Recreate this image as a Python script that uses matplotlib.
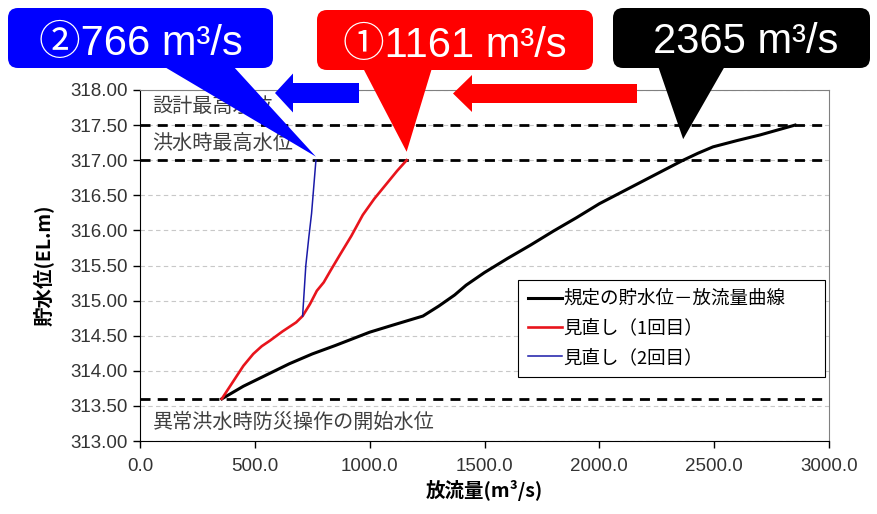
import matplotlib
matplotlib.use("Agg")
import matplotlib.pyplot as plt
import matplotlib.patches as mpatches
import matplotlib.transforms as mtransforms

# reservoir level vs. discharge curves
black_x = [356, 450, 550, 650, 750, 850, 1000, 1100, 1232, 1300, 1370, 1420,
           1500, 1600, 1700, 1800, 1900, 2000, 2100, 2200, 2300, 2365, 2430,
           2495, 2600, 2700, 2852]
black_y = [313.60, 313.78, 313.94, 314.10, 314.24, 314.36, 314.55, 314.65,
           314.78, 314.92, 315.08, 315.22, 315.40, 315.60, 315.79, 315.99,
           316.18, 316.38, 316.55, 316.72, 316.89, 317.00, 317.10, 317.19,
           317.28, 317.36, 317.50]

red_x = [356, 400, 450, 493, 530, 566, 620, 680, 708, 740, 770, 800, 830,
         870, 920, 970, 1020, 1070, 1120, 1161]
red_y = [313.60, 313.82, 314.07, 314.24, 314.35, 314.43, 314.56, 314.69,
         314.78, 314.95, 315.14, 315.26, 315.43, 315.65, 315.92, 316.22,
         316.45, 316.65, 316.85, 317.00]

blue_x = [708, 722, 735, 747, 766]
blue_y = [314.78, 315.50, 315.90, 316.24, 317.00]

legend_labels = ["規定の貯水位－放流量曲線", "見直し（1回目）", "見直し（2回目）"]

design_high = 317.5
flood_high = 317.0
start_level = 313.6
level_labels = ["設計最高水位", "洪水時最高水位", "異常洪水時防災操作の開始水位"]

peak_values = [766, 1161, 2365]
peak_texts = ["②766 m³/s", "①1161 m³/s", "2365 m³/s"]

W, H, DPI = 877, 514, 100
fig = plt.figure(figsize=(W / DPI, H / DPI), dpi=DPI)
ax = fig.add_axes([140 / W, 1 - 441 / H, 689 / W, 351 / H])

cjk = ["Noto Sans CJK JP", "DejaVu Sans"]
num_font = ["Liberation Sans Narrow", "Liberation Sans", "DejaVu Sans"]

ax.set_xlim(0, 3000)
ax.set_ylim(313, 318)
ax.set_xticks([0, 500, 1000, 1500, 2000, 2500, 3000])
ax.set_yticks([313 + 0.5 * i for i in range(11)])
ax.set_xticklabels([f"{v:.1f}" for v in ax.get_xticks()], family=num_font,
                   fontsize=13.5, color="#333333")
ax.set_yticklabels([f"{v:.2f}" for v in ax.get_yticks()], family=num_font,
                   fontsize=13.5, color="#333333")
ax.tick_params(axis="both", direction="out", length=5, width=1, pad=4)
ax.tick_params(axis="x", pad=7)

ax.yaxis.grid(True, color="#c8c8c8", linestyle=(0, (4, 3)), linewidth=0.8)
ax.set_axisbelow(True)
for side in ["top", "right"]:
    ax.spines[side].set_color("#808080")
for side in ["left", "bottom"]:
    ax.spines[side].set_color("black")

for lv in [design_high, flood_high, start_level]:
    ax.axhline(lv, color="black", linewidth=2.0, linestyle=(0, (3.6, 2.6)),
               zorder=2)

ax.plot(black_x, black_y, color="black", linewidth=2.2, label=legend_labels[0], zorder=3)
ax.plot(red_x, red_y, color="#e8141c", linewidth=1.9, label=legend_labels[1], zorder=4)
ax.plot(blue_x, blue_y, color="#1a1aa8", linewidth=1.1, label=legend_labels[2], zorder=5)

ax.text(55, 317.76, level_labels[0], family=cjk, fontsize=14.5,
        color="#404040", va="center")
ax.text(55, 317.24, level_labels[1], family=cjk, fontsize=14.5,
        color="#404040", va="center")
ax.text(55, 313.26, level_labels[2], family=cjk, fontsize=14.5,
        color="#404040", va="center")

leg = ax.legend(loc="upper left", bbox_to_anchor=(0.549, 0.179, 0.445, 0.28),
                mode="expand", borderaxespad=0,
                prop={"family": cjk, "size": 13.3},
                handlelength=1.8, handletextpad=0.1, labelspacing=0.62,
                fancybox=False, framealpha=1, edgecolor="black",
                borderpad=0.55)
leg.get_frame().set_linewidth(0.8)

ax.set_ylabel("貯水位(EL.m)", family=cjk, fontsize=14, fontweight="bold",
              labelpad=12)
ax.set_xlabel("放流量(m³/s)", family=cjk, fontsize=14, fontweight="bold",
              labelpad=4)

# pixel coordinates measured from the top-left corner of the figure
px = mtransforms.Affine2D().scale(1 / DPI, -1 / DPI).translate(0, H / DPI) + fig.dpi_scale_trans
to_px = ax.transData + px.inverted()


def callout(text, box, base, tip, color, text_x, baseline):
    x0, y0, x1, y1 = box
    fig.add_artist(mpatches.FancyBboxPatch(
        (x0, y0), x1 - x0, y1 - y0, boxstyle="round,pad=0,rounding_size=10",
        transform=px, facecolor=color, edgecolor="none", zorder=10))
    tx, ty = to_px.transform(tip)
    fig.add_artist(mpatches.Polygon(
        [(base[0], y1 - 2), (tx, ty), (base[1], y1 - 2)], closed=True,
        transform=px, facecolor=color, edgecolor="none", zorder=10))
    fig.text(text_x, baseline, text, transform=px, ha="center", va="baseline",
             color="white", fontsize=30, family=["Liberation Sans", "Noto Sans CJK JP"],
             zorder=11)


callout(peak_texts[0], (8, 8, 273, 68), (163, 233), (peak_values[0], 317.05),
        "#0000ff", 141, 55)
callout(peak_texts[1], (317, 10, 593, 70), (363, 432), (peak_values[1], 317.12),
        "#ff0000", 455, 57)
callout(peak_texts[2], (613, 8, 870, 68), (658, 725), (peak_values[2], 317.3),
        "black", 746, 53)

# leftward block arrows between the callouts
fig.add_artist(mpatches.FancyArrow(359, 93, -84, 0, width=20, head_width=39,
                                   head_length=18, length_includes_head=True,
                                   transform=px, facecolor="#0000ff",
                                   edgecolor="none", zorder=10))
fig.add_artist(mpatches.FancyArrow(637, 93.5, -184, 0, width=19, head_width=37,
                                   head_length=19, length_includes_head=True,
                                   transform=px, facecolor="#ff0000",
                                   edgecolor="none", zorder=10))

fig.savefig("out.png", dpi=DPI)
